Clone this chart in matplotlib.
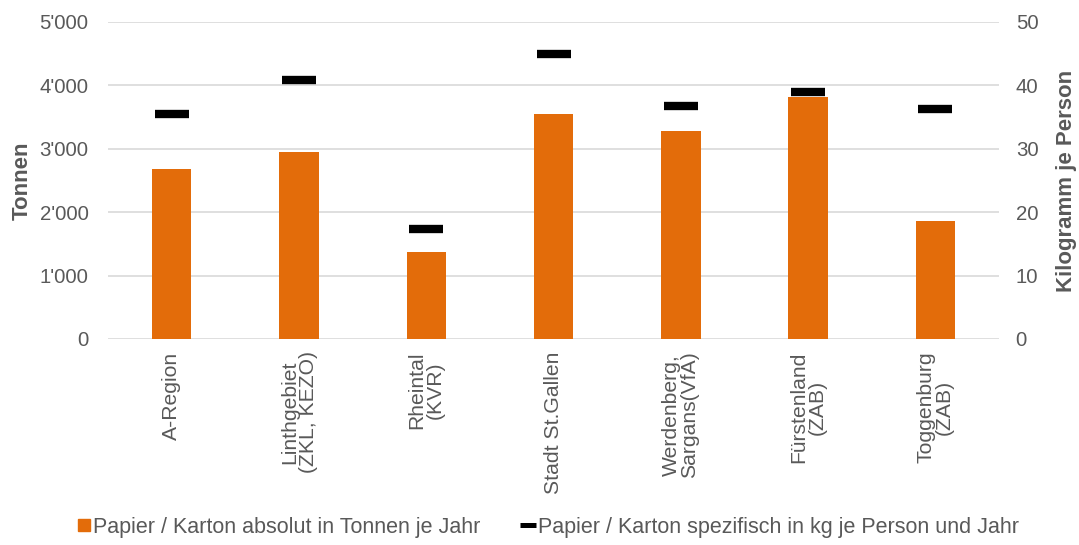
import matplotlib.pyplot as plt
from matplotlib.lines import Line2D
from matplotlib.ticker import FuncFormatter

plt.rcParams['font.family'] = ['Liberation Sans', 'DejaVu Sans']

regions = ['A-Region', 'Linthgebiet\n(ZKL, KEZO)', 'Rheintal\n(KVR)', 'Stadt St.Gallen',
           'Werdenberg,\nSargans(VfA)', 'Fürstenland\n(ZAB)', 'Toggenburg\n(ZAB)']
tonnen = [2685, 2945, 1365, 3545, 3285, 3820, 1855]
kg_person = [35.5, 40.9, 17.3, 45.0, 36.7, 38.9, 36.2]

orange = '#E36C0A'
grey = '#595959'

fig = plt.figure(figsize=(10.79, 5.45), dpi=100)
ax = fig.add_axes([0.1001, 0.378, 0.8258, 0.5818])
ax2 = ax.twinx()

x = list(range(len(regions)))
ax.bar(x, tonnen, width=0.31, color=orange, zorder=2)
ax2.plot(x, kg_person, linestyle='none', marker='_', markersize=25,
         markeredgewidth=6, color='black', zorder=3)

ax.set_xlim(-0.5, len(regions) - 0.5)
ax.set_ylim(0, 5000)
ax2.set_ylim(0, 50)
ax.set_yticks(range(0, 5001, 1000))
ax2.set_yticks(range(0, 51, 10))
ax.yaxis.set_major_formatter(FuncFormatter(lambda v, p: f"{int(v):,}".replace(',', "'")))

ax.grid(axis='y', color='#d9d9d9', linewidth=1.2, zorder=0)
ax.set_axisbelow(True)
for a in (ax, ax2):
    for s in a.spines.values():
        s.set_visible(False)
    a.tick_params(length=0, labelsize=14.7, labelcolor=grey)
ax.tick_params(axis='y', pad=14)
ax2.tick_params(axis='y', pad=12)

ax.set_xticks(x)
ax.set_xticklabels(regions, rotation=90, ha='center', va='top',
                   multialignment='center', linespacing=0.95, fontsize=15.2)
ax.tick_params(axis='x', pad=9)

ax.set_ylabel('Tonnen', fontsize=16, fontweight='bold', color=grey, labelpad=5)
ax2.set_ylabel('Kilogramm je Person', fontsize=16, fontweight='bold', color=grey, labelpad=13)

handles = [
    Line2D([], [], linestyle='none', marker='s', markersize=8, color=orange),
    Line2D([], [], linestyle='none', marker='_', markersize=11, markeredgewidth=3.6, color='black'),
]
labels = ['Papier / Karton absolut in Tonnen je Jahr',
          'Papier / Karton spezifisch in kg je Person und Jahr']
leg = fig.legend(handles, labels, loc='center', bbox_to_anchor=(0.508, 0.033), ncol=2,
                 frameon=False, fontsize=15.5, handlelength=0.6, handletextpad=0.15,
                 columnspacing=1.9)
for t in leg.get_texts():
    t.set_color(grey)

fig.savefig('out.png', dpi=100)
